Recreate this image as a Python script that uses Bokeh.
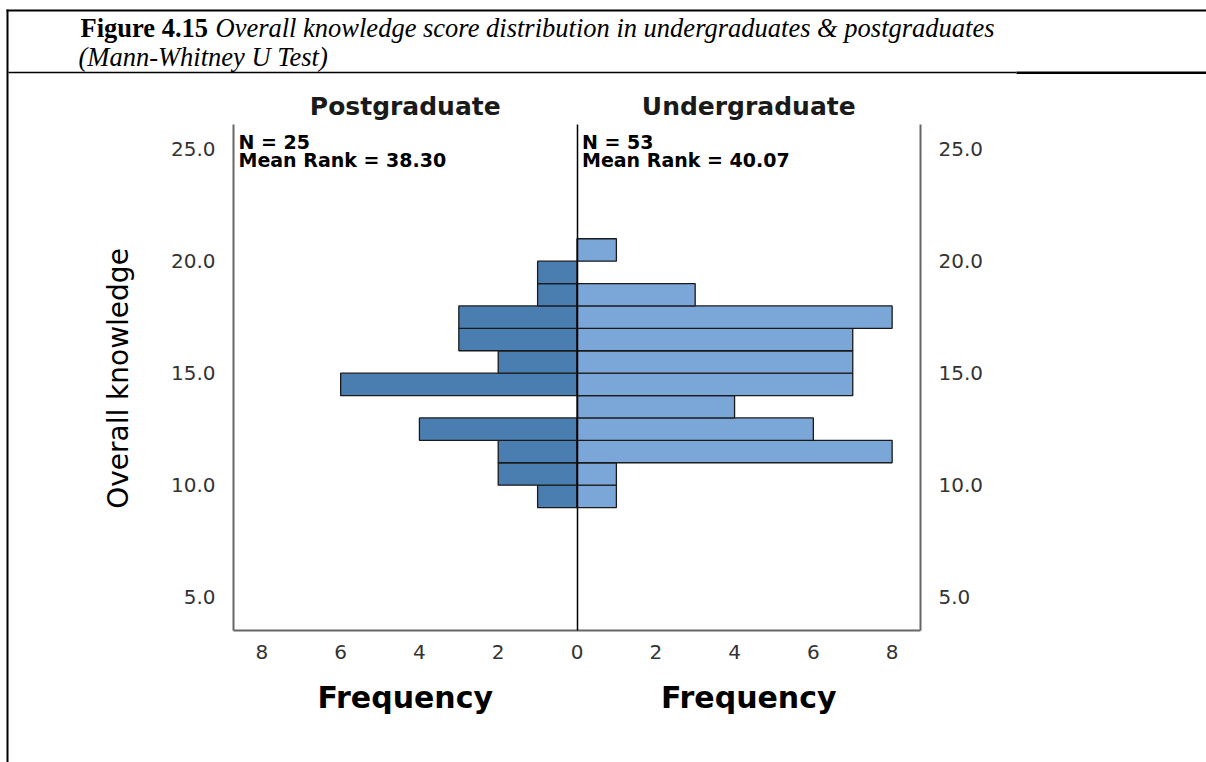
from bokeh.plotting import figure
from bokeh.models import (Range1d, LinearAxis, FixedTicker, Label, BoxAnnotation,
                          ColumnDataSource, NumeralTickFormatter)
from bokeh.embed import file_html
from bokeh.resources import INLINE
from math import pi

# ---- data ----
bin_low = [9, 10, 11, 12, 13, 14, 15, 16, 17, 18, 19, 20]
postgrad = [1, 2, 2, 4, 0, 6, 2, 3, 3, 1, 1, 0]
undergrad = [1, 1, 8, 6, 4, 7, 7, 7, 8, 3, 0, 1]
groups = ["Postgraduate", "Undergraduate"]
n_values = [25, 53]
mean_ranks = ["38.30", "40.07"]
y_ticks = [5, 10, 15, 20, 25]
x_ticks = [-8, -6, -4, -2, 0, 2, 4, 6, 8]
x_tick_labels = ["8", "6", "4", "2", "0", "2", "4", "6", "8"]
caption_bold = "Figure 4.15"
caption_italic_1 = "Overall knowledge score distribution in undergraduates & postgraduates"
caption_italic_2 = "(Mann-Whitney U Test)"
y_title = "Overall knowledge"
x_title = "Frequency"

# ---- layout geometry (pixels) ----
W, H = 1206, 762
XMAX = 8.72                 # half-width of the two panels, in frequency units
YMIN, YMAX = 3.51, 26.1     # value axis extent
PX_LEFT, PX_CENTER, PX_RIGHT = 233.0, 576.5, 920.0
PX_TOP, PX_BOTTOM = 124.0, 630.0
SX = (PX_RIGHT - PX_LEFT) / (2 * XMAX)
SY = (PX_BOTTOM - PX_TOP) / (YMAX - YMIN)


def X(px):
    return (px - PX_CENTER) / SX


def Y(py):
    return YMIN + (PX_BOTTOM - py) / SY


p = figure(width=W, height=H, x_range=Range1d(X(0), X(W)), y_range=Range1d(Y(H), Y(0)),
           min_border=0, x_axis_location=None, y_axis_location=None,
           output_backend="svg", toolbar_location=None)
p.outline_line_color = None
p.xgrid.visible = False
p.ygrid.visible = False
p.background_fill_color = "white"
p.border_fill_color = "white"

pg_src = ColumnDataSource(dict(
    y=[b + 0.5 for b, v in zip(bin_low, postgrad) if v > 0],
    left=[-v for v in postgrad if v > 0],
    right=[0 for v in postgrad if v > 0]))
ug_src = ColumnDataSource(dict(
    y=[b + 0.5 for b, v in zip(bin_low, undergrad) if v > 0],
    left=[0 for v in undergrad if v > 0],
    right=[v for v in undergrad if v > 0]))

p.hbar(y="y", left="left", right="right", height=1, source=pg_src,
       fill_color="#4a7eb1", line_color="#1a1a1a", line_width=1.3)
p.hbar(y="y", left="left", right="right", height=1, source=ug_src,
       fill_color="#7ba6d8", line_color="#1a1a1a", line_width=1.3)

# ---- axes (drawn at fixed locations inside the canvas) ----
ax_color = "#666666"
tick_font = "DejaVu Sans"
fmt = NumeralTickFormatter(format="0.0")
x_axis = LinearAxis(ticker=FixedTicker(ticks=x_ticks), fixed_location=YMIN, bounds=(-XMAX, XMAX),
                    major_label_overrides={t: l for t, l in zip(x_ticks, x_tick_labels)})
left_axis = LinearAxis(ticker=FixedTicker(ticks=y_ticks), formatter=fmt, fixed_location=-XMAX,
                       bounds=(YMIN, YMAX))
right_axis = LinearAxis(ticker=FixedTicker(ticks=y_ticks), formatter=fmt, fixed_location=XMAX,
                        bounds=(YMIN, YMAX))
center_axis = LinearAxis(ticker=FixedTicker(ticks=[]), fixed_location=0, bounds=(YMIN, YMAX))
p.add_layout(x_axis, "below")
p.add_layout(left_axis, "left")
p.add_layout(right_axis, "right")
p.add_layout(center_axis, "left")
for ax in [x_axis, left_axis, right_axis, center_axis]:
    ax.major_tick_line_color = None
    ax.minor_tick_line_color = None
    ax.axis_line_color = ax_color
    ax.axis_line_width = 2
    ax.major_label_text_font = tick_font
    ax.major_label_text_font_size = "20px"
    ax.major_label_text_color = "#333333"
center_axis.axis_line_color = "black"
center_axis.axis_line_width = 1.5
x_axis.major_label_standoff = 8
left_axis.major_label_standoff = 12
right_axis.major_label_standoff = 12

# ---- group titles, stats, axis titles ----
bold_font = "DejaVu Sans"
for i, g in enumerate(groups):
    sign = -1 if i == 0 else 1
    p.add_layout(Label(x=sign * XMAX / 2, y=Y(106), text=g,
                       text_font=bold_font, text_font_style="bold", text_font_size="25px",
                       text_color="#1a1a1a", text_align="center", text_baseline="middle"))
    x0 = -XMAX if i == 0 else 0
    p.add_layout(Label(x=x0, y=Y(141), x_offset=5, text=f"N = {n_values[i]}",
                       text_font=bold_font, text_font_style="bold", text_font_size="19px",
                       text_color="black", text_align="left", text_baseline="alphabetic"))
    p.add_layout(Label(x=x0, y=Y(159), x_offset=5, text=f"Mean Rank = {mean_ranks[i]}",
                       text_font=bold_font, text_font_style="bold", text_font_size="19px",
                       text_color="black", text_align="left", text_baseline="alphabetic"))
    p.add_layout(Label(x=sign * XMAX / 2, y=Y(697), text=x_title,
                       text_font=bold_font, text_font_style="bold", text_font_size="30px",
                       text_color="black", text_align="center", text_baseline="middle"))

p.add_layout(Label(x=X(118), y=Y(378), text=y_title, angle=pi / 2,
                   text_font="DejaVu Sans", text_font_size="28px", text_color="black",
                   text_align="center", text_baseline="middle"))

# ---- caption ----
serif = "Liberation Serif"
p.add_layout(Label(x=X(80), y=Y(27), text=caption_bold,
                   text_font=serif, text_font_style="bold", text_font_size="26.5px",
                   text_color="black", text_baseline="middle"))
p.add_layout(Label(x=X(215), y=Y(27), text=caption_italic_1,
                   text_font=serif, text_font_style="italic", text_font_size="26.5px",
                   text_color="black", text_baseline="middle"))
p.add_layout(Label(x=X(78), y=Y(56), text=caption_italic_2,
                   text_font=serif, text_font_style="italic", text_font_size="26.5px",
                   text_color="black", text_baseline="middle"))


# ---- document rules ----
def rule(l, r, t, b):
    p.add_layout(BoxAnnotation(left=X(l), right=X(r), top=Y(t), bottom=Y(b),
                               fill_color="black", fill_alpha=1, line_color=None))


rule(6, W, 9, 11)
rule(6, 8, 9, H)
rule(8, 1016, 71.3, 72.7)
rule(1016, W, 71, 73.5)

open("out.html", "w").write(file_html(p, INLINE))
